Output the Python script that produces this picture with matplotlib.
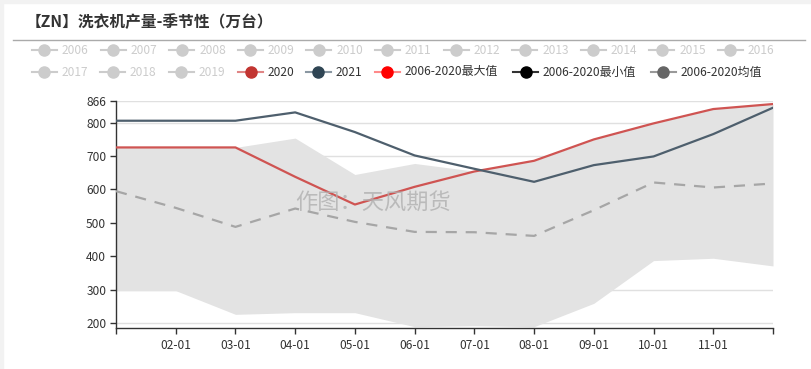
import matplotlib
matplotlib.use("Agg")
import matplotlib.pyplot as plt
from matplotlib.lines import Line2D
from matplotlib.patches import Rectangle

plt.rcParams['font.family'] = ['Noto Sans CJK SC', 'DejaVu Sans']

# data (wan units)
months = ['01-01', '02-01', '03-01', '04-01', '05-01', '06-01',
          '07-01', '08-01', '09-01', '10-01', '11-01', '12-01']
y2020 = [726, 726, 726, 638, 555, 608, 654, 686, 750, 798, 841, 856]
y2021 = [806, 806, 806, 831, 772, 702, 662, 623, 673, 699, 766, 845]
max_06_20 = [726, 726, 726, 754, 645, 678, 655, 686, 750, 798, 841, 856]
min_06_20 = [297, 297, 226, 231, 231, 189, 192, 189, 259, 387, 394, 371]
mean_06_20 = [595, 545, 488, 543, 503, 473, 472, 461, 538, 621, 606, 618]

legend_row1 = ['2006', '2007', '2008', '2009', '2010', '2011',
               '2012', '2013', '2014', '2015', '2016']
legend_row2 = ['2017', '2018', '2019', '2020', '2021',
               '2006-2020最大值', '2006-2020最小值', '2006-2020均值']

W, H = 812, 369
fig = plt.figure(figsize=(W / 100, H / 100), dpi=100)
fig.patch.set_facecolor('white')


def fx(x):
    return x / W


def fy(y):
    return 1 - y / H


# light frame strips on top and left
fig.patches.append(Rectangle((0, fy(3)), 1, 3 / H, transform=fig.transFigure,
                             color='#f2f2f2', zorder=0))
fig.patches.append(Rectangle((0, 0), 3 / W, 1, transform=fig.transFigure,
                             color='#f2f2f2', zorder=0))

# title + separator line
fig.text(fx(26), fy(22), '【ZN】洗衣机产量-季节性（万台）', fontsize=11.3,
         fontweight='bold', color='#333333', va='center', ha='left')
fig.add_artist(Line2D([fx(13), fx(805)], [fy(40), fy(40)], color='#aaaaaa',
                      lw=1, transform=fig.transFigure))

# legend drawn by hand, echarts style
active = {'2020': ('#e08585', '#c23531'),
          '2021': ('#8a97a2', '#2f4554'),
          '2006-2020最大值': ('#ff8a8a', '#ff0000'),
          '2006-2020最小值': ('#333333', '#000000'),
          '2006-2020均值': ('#999999', '#666666')}


def legend_item(x, y, label):
    if label in active:
        lc, mc = active[label]
        tc = '#333333'
    else:
        lc, mc, tc = '#cccccc', '#cccccc', '#cccccc'
    fig.add_artist(Line2D([fx(x), fx(x + 25)], [fy(y), fy(y)], color=lc, lw=1.5,
                          transform=fig.transFigure))
    fig.add_artist(Line2D([fx(x + 12.5)], [fy(y)], marker='o', markersize=8,
                          color=mc, transform=fig.transFigure, lw=0))
    fig.text(fx(x + 30), fy(y), label, fontsize=8.6, color=tc,
             va='center', ha='left')


for i, lab in enumerate(legend_row1):
    legend_item(32 + i * 68.6, 50, lab)
row2_x = [32, 100, 169, 238, 306, 375, 513, 651]
for xx, lab in zip(row2_x, legend_row2):
    legend_item(xx, 72, lab)

# main axes
x0, x1, ytop, ybot = 116, 773, 100.7, 327.7
ax = fig.add_axes([fx(x0), fy(ybot), (x1 - x0) / W, (ybot - ytop) / H])
xs = list(range(len(months)))

ax.fill_between(xs, min_06_20, max_06_20, color='#e3e3e3', lw=0, zorder=1)
ax.plot(xs, mean_06_20, color='#a6a6a6', lw=1.6, ls=(0, (5, 4)), zorder=3)
ax.plot(xs, y2020, color='#cf5452', lw=1.6, zorder=4)
ax.plot(xs, y2021, color='#4e5f6d', lw=1.6, zorder=4)

ax.set_xlim(0, len(months) - 1)
ax.set_ylim(186, 866)
ax.set_yticks([200, 300, 400, 500, 600, 700, 800, 866])
ax.set_xticks(xs)
ax.set_xticklabels([''] + months[1:-1] + [''])
ax.grid(axis='y', color='#e0e0e0', lw=1, zorder=0)
ax.set_axisbelow(True)

for s in ['top', 'right']:
    ax.spines[s].set_visible(False)
for s in ['left', 'bottom']:
    ax.spines[s].set_color('#333333')
    ax.spines[s].set_linewidth(1)
ax.tick_params(axis='both', colors='#333333', labelsize=8.6, length=4,
               width=1, direction='out')
ax.tick_params(axis='x', pad=4)
ax.tick_params(axis='y', pad=3)
ax.set_facecolor('white')

# watermark
fig.text(fx(373), fy(203), '作图：天风期货', fontsize=16, color='#b0b0b0',
         alpha=0.8, ha='center', va='center', zorder=10)

fig.savefig('out.png', dpi=100)
